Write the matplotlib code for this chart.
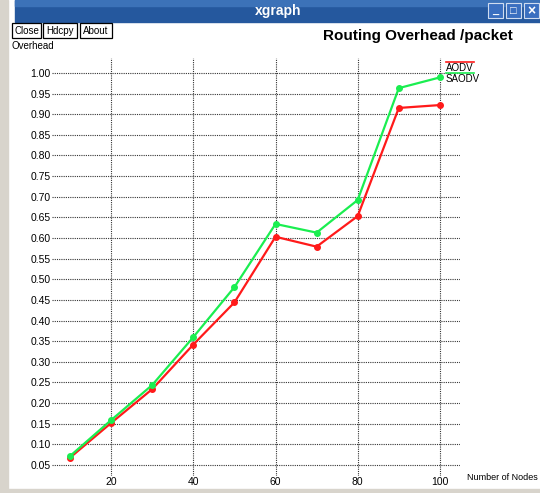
import numpy as np
import matplotlib
matplotlib.use("Agg")
from matplotlib import pyplot as plt
from matplotlib.patches import Rectangle

plt.rcParams['font.family'] = ['Liberation Sans', 'DejaVu Sans']

# data
nodes = [10, 20, 30, 40, 50, 60, 70, 80, 90, 100]
aodv = [0.068, 0.152, 0.234, 0.342, 0.444, 0.603, 0.579, 0.653, 0.915, 0.922]
saodv = [0.072, 0.159, 0.244, 0.360, 0.481, 0.634, 0.613, 0.692, 0.963, 0.989]
series_names = ["AODV", "SAODV"]
series_colors = ["#ff1a1a", "#1aee50"]
xticks = [20, 40, 60, 80, 100]
yticks = [0.05 * i for i in range(1, 21)]

W, H = 540, 493
fig = plt.figure(figsize=(W / 100, H / 100), dpi=100)
fig.patch.set_facecolor("white")

def px(x, y, w, h):
    # pixel box (top-left origin) -> figure fraction
    return [x / W, (H - y - h) / H, w / W, h / H]

# plot area
ax = fig.add_axes(px(52, 58, 408, 418))
ax.set_facecolor("none")
ax.set_xlim(5.6, 104.9)
ax.set_ylim(0.0235, 1.036)
for s in ax.spines.values():
    s.set_visible(False)
ax.set_xticks(xticks)
ax.set_yticks(yticks)
ax.set_yticklabels(["%.2f" % v for v in yticks])
ax.tick_params(length=0, labelsize=7.5, pad=1)
ax.tick_params(axis="x", pad=0.5)
ax.grid(True, color="#333333", linestyle=(0, (1, 1)), lw=0.8)
ax.set_axisbelow(True)

for vals, c in zip([aodv, saodv], series_colors):
    ax.plot(nodes, vals, color=c, lw=1.6, marker="o", ms=4, mec=c, mfc=c, clip_on=False)

# window frame bits, drawn on top
bg = fig.add_axes([0, 0, 1, 1])
bg.set_facecolor("none")
bg.set_xlim(0, W)
bg.set_ylim(H, 0)
bg.axis("off")
bg.add_patch(Rectangle((0, 0), 8, H, color="#d8d4cc"))
bg.add_patch(Rectangle((0, 489), W, 4, color="#d8d4cc"))
bg.add_patch(Rectangle((15, 0), W - 15, 22, color="#25589e"))
bg.add_patch(Rectangle((15, 0), W - 15, 6, color="#3c72b8"))
bg.text(278, 11, "xgraph", color="white", fontsize=10, fontweight="bold",
        ha="center", va="center")
for bx in [488, 506, 524]:
    bg.add_patch(Rectangle((bx, 3), 15, 15, facecolor="#3a6fc0",
                           edgecolor="#cfdcf0", lw=0.8))
bg.text(495, 11, "_", color="white", fontsize=8, fontweight="bold", ha="center", va="center")
bg.text(513, 11, "□", color="white", fontsize=8, fontweight="bold", ha="center", va="center")
bg.text(531, 11, "×", color="white", fontsize=10, fontweight="bold", ha="center", va="center")

for label, bx, bw in [("Close", 12, 29), ("Hdcpy", 43, 34), ("About", 80, 32)]:
    bg.add_patch(Rectangle((bx, 23), bw, 15, facecolor="white",
                           edgecolor="black", lw=0.9))
    bg.text(bx + bw / 2, 31, label, fontsize=7, ha="center", va="center")

bg.text(418, 36, "Routing Overhead /packet", fontsize=11, fontweight="bold",
        ha="center", va="center")
bg.text(11, 46, "Overhead", fontsize=7, ha="left", va="center")
bg.text(467, 477, "Number of Nodes", fontsize=6.5, ha="left", va="center")

# legend, xgraph style: coloured line over the name
for i, name in enumerate(series_names):
    ly = 68 + i * 11
    bg.plot([446, 474], [ly - 6, ly - 6], color=series_colors[i], lw=1.2)
    bg.text(446, ly, name, fontsize=7, ha="left", va="center")

fig.savefig("out.png", dpi=100)
